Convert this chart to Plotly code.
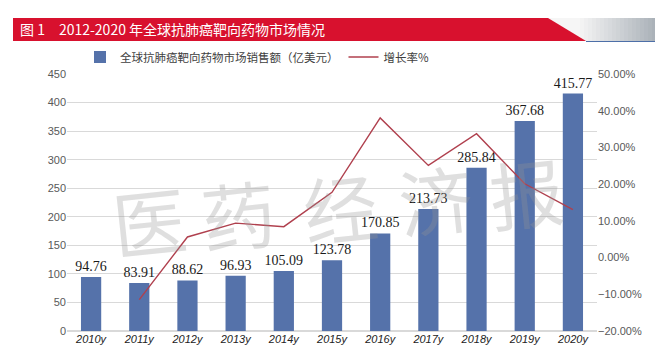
import plotly.graph_objects as go

years = ["2010y", "2011y", "2012y", "2013y", "2014y", "2015y", "2016y", "2017y", "2018y", "2019y", "2020y"]
sales = [94.76, 83.91, 88.62, 96.93, 105.09, 123.78, 170.85, 213.73, 285.84, 367.68, 415.77]
growth_years = years[1:]
growth = [-0.1145, 0.0561, 0.0938, 0.0842, 0.1778, 0.3803, 0.2510, 0.3374, 0.2010, 0.1308]
left_ticks = [0, 50, 100, 150, 200, 250, 300, 350, 400, 450]
right_ticks = [-0.2, -0.1, 0.0, 0.1, 0.2, 0.3, 0.4, 0.5]
title_text = "图 1　2012-2020 年全球抗肺癌靶向药物市场情况"
bar_name = "全球抗肺癌靶向药物市场销售额（亿美元）"
line_name = "增长率%"
watermark = ["医", "药", "经", "济", "报"]

W, H = 663, 362
L, R, T, B = 59, 74, 66, 39
PW, PH = W - L - R, H - T - B


def px(x):
    return (x - L) / PW


def py(y):
    return (H - B - y) / PH


CJK = "Noto Sans CJK SC"

fig = go.Figure()
fig.add_trace(go.Bar(
    x=years, y=sales, name=bar_name,
    marker=dict(color="#5572aa", line=dict(width=0)),
    text=[f"{v:.2f}" for v in sales], textposition="outside",
    constraintext="none",
    textfont=dict(family="Liberation Serif", size=14, color="#1a1a1a"),
    cliponaxis=False,
))
fig.add_trace(go.Scatter(
    x=growth_years, y=growth, name=line_name, yaxis="y2", mode="lines",
    line=dict(color="#b0404e", width=1.4),
))

shapes = []
# gradient part of title bar
n = 30
x0, x1 = 540, 660
for i in range(n):
    t = i / (n - 1)
    c0 = (246, 246, 246)
    c1 = (160, 168, 176)
    tt = max(0, (t - 0.25) / 0.75)
    col = tuple(int(c0[k] + (c1[k] - c0[k]) * tt) for k in range(3))
    xa = x0 + (x1 - x0) * i / n
    xb = x0 + (x1 - x0) * (i + 1) / n + 0.6
    ytop = 10 if i < n - 2 else 12 + (i - (n - 2)) * 2
    shapes.append(dict(type="rect", xref="paper", yref="paper",
                       x0=px(xa), x1=px(min(xb, x1)), y0=py(33), y1=py(ytop),
                       fillcolor="rgb(%d,%d,%d)" % col, line=dict(width=0), layer="above"))
# red polygon
pts = [(5, 10), (540, 10), (578, 33), (5, 33)]
path = "M " + " L ".join(f"{px(a)},{py(b)}" for a, b in pts) + " Z"
shapes.append(dict(type="path", xref="paper", yref="paper", path=path,
                   fillcolor="#d8112e", line=dict(width=0), layer="above"))
shapes.append(dict(type="line", xref="paper", yref="paper", x0=px(578), x1=px(660),
                   y0=py(33.5), y1=py(33.5), line=dict(color="#4d6fa8", width=1.2), layer="above"))

annotations = [dict(text=title_text, xref="paper", yref="paper", x=px(10), y=py(21.5),
                    xanchor="left", yanchor="middle", showarrow=False,
                    font=dict(family=CJK, size=14, color="white"))]

wm_pos = [(141, 210), (230, 204), (332, 197), (427, 189), (518, 182)]
for ch, (cx, cy) in zip(watermark, wm_pos):
    annotations.append(dict(text=ch, xref="paper", yref="paper", x=px(cx), y=py(cy),
                            xanchor="center", yanchor="middle", showarrow=False, textangle=-6,
                            font=dict(family=CJK, size=74, color="rgba(150,150,150,0.30)")))

fig.update_layout(
    width=W, height=H,
    margin=dict(l=L, r=R, t=T, b=B, autoexpand=False),
    paper_bgcolor="white", plot_bgcolor="white",
    bargap=0.58,
    showlegend=True,
    legend=dict(orientation="h", x=px(72), y=py(49), xanchor="left", yanchor="middle",
                font=dict(family=CJK, size=11.5, color="#404040"), itemwidth=30,
                tracegroupgap=0, bgcolor="rgba(0,0,0,0)"),
    xaxis=dict(type="category", showgrid=False, showline=False, ticks="",
               tickfont=dict(family="Liberation Sans", size=11, color="#222"),
               tickvals=years, ticktext=[f"<i>{y}</i>" for y in years]),
    yaxis=dict(range=[0, 450], tickvals=left_ticks, showgrid=True, gridcolor="#d9d9d9",
               gridwidth=1, zeroline=True, zerolinecolor="#d9d9d9", showline=False,
               tickfont=dict(family="Liberation Sans", size=11, color="#595959"), ticks=""),
    yaxis2=dict(range=[-0.2, 0.5], tickvals=right_ticks, tickformat=".2%", overlaying="y",
                side="right", showgrid=False, zeroline=False, showline=False, ticks="",
                tickfont=dict(family="Liberation Sans", size=11, color="#595959")),
    shapes=shapes,
    annotations=annotations,
)

fig.write_html("out.html")
